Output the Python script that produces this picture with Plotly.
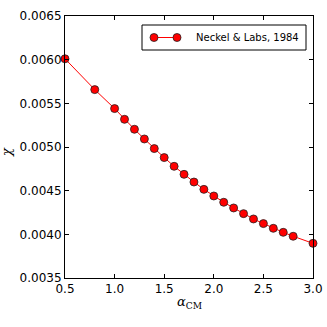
import plotly.graph_objects as go

alpha_cm = [0.5, 0.8, 1.0, 1.1, 1.2, 1.3, 1.4, 1.5, 1.6, 1.7, 1.8, 1.9, 2.0,
            2.1, 2.2, 2.3, 2.4, 2.5, 2.6, 2.7, 2.8, 3.0]
chi = [0.00601, 0.005657, 0.00544, 0.005317, 0.005203, 0.005092, 0.004982,
       0.004879, 0.004779, 0.004687, 0.004599, 0.004515, 0.004439, 0.004367,
       0.004302, 0.004237, 0.004176, 0.004123, 0.004069, 0.004023, 0.003978,
       0.003897]
series_name = "Neckel & Labs, 1984"
x_ticks = [0.5, 1.0, 1.5, 2.0, 2.5, 3.0]
y_ticks = [0.0035, 0.0040, 0.0045, 0.0050, 0.0055, 0.0060, 0.0065]

W, H = 327, 327
ML, MR, MT, MB = 65, 14, 16, 49
PW, PH = W - ML - MR, H - MT - MB


def px(x):
    return (x - ML) / PW


def py(y):
    return (H - MB - y) / PH


fig = go.Figure()
fig.add_trace(go.Scatter(
    x=alpha_cm, y=chi, mode="lines+markers", name=series_name,
    line=dict(color="#ff0000", width=1),
    marker=dict(color="#ff0000", size=8, line=dict(color="#222222", width=0.8)),
    cliponaxis=False, showlegend=False, hoverinfo="skip",
))

axis_common = dict(
    showgrid=False, zeroline=False, showline=True, linecolor="black",
    linewidth=1, mirror="ticks", ticks="inside", ticklen=4, automargin=False,
    tickcolor="black", tickfont=dict(family="DejaVu Sans", size=12, color="black"),
)
fig.update_xaxes(range=[0.5, 3.0], tickvals=x_ticks,
                 ticktext=[f"{v:.1f}" for v in x_ticks], **axis_common)
fig.update_yaxes(range=[0.0035, 0.0065], tickvals=y_ticks,
                 ticktext=[f"{v:.4f}" for v in y_ticks], **axis_common)

# custom matplotlib-style legend
shapes = [
    dict(type="rect", xref="paper", yref="paper", x0=px(142), x1=px(306),
         y0=py(50), y1=py(25), line=dict(color="black", width=1),
         fillcolor="white", layer="above"),
    dict(type="line", xref="paper", yref="paper", x0=px(154), x1=px(177),
         y0=py(37.5), y1=py(37.5), line=dict(color="#ff0000", width=1),
         layer="above"),
]
for cx in (154, 177):
    shapes.append(dict(type="circle", xref="paper", yref="paper",
                       x0=px(cx - 4), x1=px(cx + 4), y0=py(41.5), y1=py(33.5),
                       fillcolor="#ff0000", line=dict(color="#222222", width=0.8),
                       layer="above"))

fig.update_layout(
    width=W, height=H,
    margin=dict(l=ML, r=MR, t=MT, b=MB, autoexpand=False),
    paper_bgcolor="white", plot_bgcolor="white",
    showlegend=False,
    shapes=shapes,
    annotations=[
        dict(text=series_name, x=px(194), y=py(37.5), xref="paper",
             yref="paper", xanchor="left", yanchor="middle", showarrow=False,
             font=dict(family="DejaVu Sans", size=10, color="black")),
        dict(text="<i>α</i><sub>CM</sub>", x=0.5, y=py(302), xref="paper",
             yref="paper", xanchor="center", yanchor="middle", showarrow=False,
             font=dict(family="DejaVu Serif", size=13, color="black")),
        dict(text="<i>χ</i>", x=px(6), y=py(152), xref="paper", yref="paper",
             xanchor="center", yanchor="middle", showarrow=False, textangle=-90,
             font=dict(family="DejaVu Serif", size=13, color="black")),
    ],
)

fig.write_html(
    "out.html",
    config={"displayModeBar": False, "staticPlot": True},
    post_script="document.body.style.margin='0px';"
                "document.body.style.overflow='hidden';",
)
